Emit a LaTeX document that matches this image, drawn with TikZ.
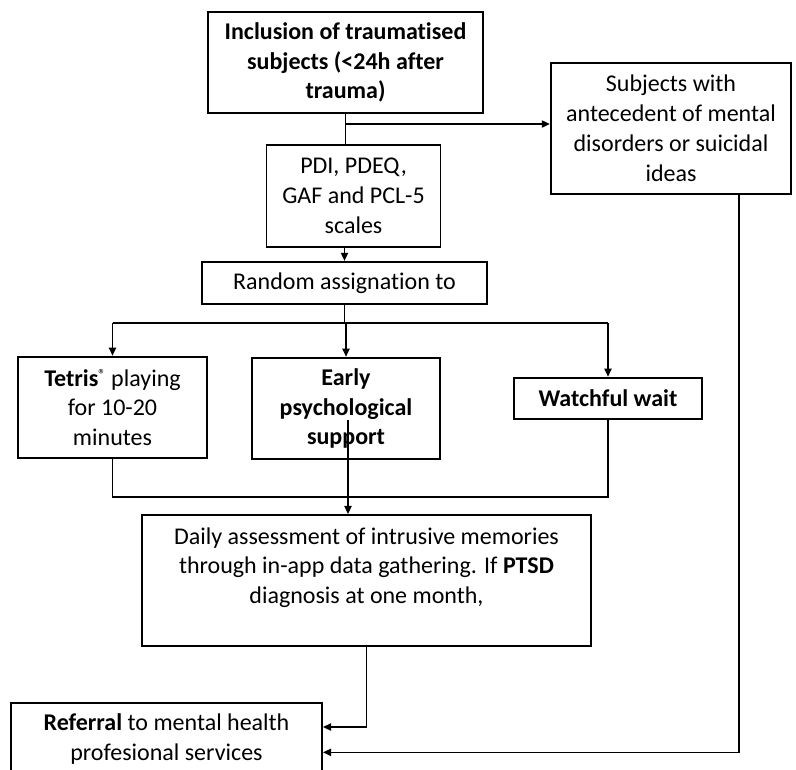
\documentclass[tikz,border=0pt]{standalone}
\usepackage{fontspec}
\setmainfont{Carlito}[Ligatures=NoCommon]
\usetikzlibrary{arrows.meta}

\begin{document}
\begin{tikzpicture}[
    x=0.75pt, y=-0.75pt,
    box/.style={
        draw, rectangle, line width=1.8pt, inner sep=0pt,
        align=center, font=\fontsize{18}{22.4}\selectfont
    },
    thinbox/.style={box, line width=0.9pt},
    conn/.style={line width=0.8pt},
    arr/.style={-{Triangle[length=6pt, width=5.5pt]}, line width=0.8pt}
]

% page frame (the bottom box runs off the page)
\clip (0,0) rectangle (796,769);

%% ---- Nodes at explicit (x,y) positions ----

% Top row
\node[box, minimum width=206pt, minimum height=76pt] at (345.5,62.5) (incl)
    {\textbf{Inclusion of traumatised}\\\textbf{subjects (<24h after}\\\textbf{trauma)}};
\node[box, minimum width=180pt, minimum height=98pt] at (671,128.5) (antec)
    {Subjects with\\antecedent of mental\\disorders or suicidal\\ideas};

% Baseline scales and randomisation
\node[thinbox, minimum width=131pt, minimum height=76.5pt] at (353.5,196) (scales)
    {PDI, PDEQ,\\GAF and PCL-5\\scales};
\node[box, minimum width=214pt, minimum height=31.5pt] at (344.5,283) (random)
    {Random assignation to};

% The three arms
\node[box, minimum width=142pt, minimum height=76pt] at (112.5,407.5) (tetris)
    {\textbf{Tetris}\raisebox{0.6ex}{\fontsize{11}{11}\selectfont ®} playing\\for 10-20\\minutes};
\node[box, minimum width=141pt, minimum height=76pt] at (346,408.5) (early)
    {\textbf{Early}\\\textbf{psychological}\\\textbf{support}};
\node[box, minimum width=141pt, minimum height=31pt] at (608,398.5) (watch)
    {\textbf{Watchful wait}};

% Follow-up and referral
\node[box, minimum width=337pt, minimum height=98pt] at (366.5,580.5) (daily)
    {Daily assessment of intrusive memories\\through in-app data gathering. If \textbf{PTSD}\\diagnosis at one month,\\\mbox{}};
\node[box, minimum width=233pt, minimum height=54pt] at (166.5,739) (refer)
    {\textbf{Referral} to mental health\\profesional services};

% Branch points
\coordinate (split) at (345.5,124);
\coordinate (fork)  at (345,323);
\coordinate (join)  at (346,497);
\coordinate (mid)   at (348,420);

%% ---- Arrows ----

% 1. Inclusion -> scales, with exclusion branch to the right
\draw[conn] (incl.south) -- (incl.south |- scales.north);
\draw[arr] (split) -- (split -| antec.west);

% 2. Scales -> random assignation
\draw[arr] (random.north |- scales.south) -- (random.north);

% 3. Random assignation -> the three arms
\draw[conn] (random.south) -- (random.south |- fork);
\draw[conn] (tetris.north |- fork) -- (watch.north |- fork);
\foreach \arm in {tetris, early, watch}
    \draw[arr] (\arm.north |- fork) -- (\arm.north);

% 4. Arms -> daily assessment
\draw[conn] (tetris.south) |- (join) -| (watch.south);
\draw[arr] (mid) -- (mid |- daily.north);

% 5. Daily assessment and exclusion -> referral
\draw[arr] (daily.south) |- ([yshift=9pt]refer.east);
\draw[arr] ([xshift=51pt]antec.south) |- ([yshift=-10pt]refer.east);

\end{tikzpicture}
\end{document}
